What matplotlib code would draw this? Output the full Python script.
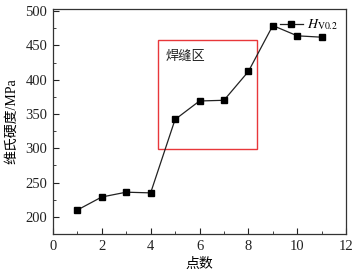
import matplotlib.pyplot as plt
from matplotlib.patches import Rectangle
from matplotlib.ticker import MultipleLocator

plt.rcParams['font.family'] = ['Liberation Serif', 'Noto Sans CJK SC']
plt.rcParams['mathtext.fontset'] = 'stix'

points = [1, 2, 3, 4, 5, 6, 7, 8, 9, 10, 11]
hv = [210, 229, 236, 235, 342, 369, 370, 412, 479, 464, 462]

fig = plt.figure(figsize=(3.55, 2.75), dpi=100)
ax = fig.add_axes([0.149, 0.149, 0.826, 0.818])

ax.plot(points, hv, color='#222222', lw=0.9, marker='s', ms=4.5,
        mfc='black', mec='black', label=r'$H_{\mathrm{V0.2}}$')

ax.add_patch(Rectangle((4.32, 298.5), 4.02, 160, fill=False,
                       edgecolor='#e8373a', lw=1.0))
ax.text(4.6, 433, '焊缝区', fontsize=9.5, va='center', color='#222222')

ax.set_xlim(0, 12)
ax.set_ylim(175, 503)
ax.xaxis.set_major_locator(MultipleLocator(2))
ax.xaxis.set_minor_locator(MultipleLocator(1))
ax.yaxis.set_major_locator(MultipleLocator(50))
ax.yaxis.set_minor_locator(MultipleLocator(25))
ax.tick_params(which='both', direction='in', top=False, right=False,
               labelsize=10.5, colors='#222222')
ax.tick_params(which='major', length=4, pad=4)
ax.tick_params(which='minor', length=2.5)
for s in ax.spines.values():
    s.set_color('#333333')
    s.set_linewidth(0.9)

ax.set_xlabel('点数', fontsize=10, labelpad=4)
ax.set_ylabel('维氏硬度/MPa', fontsize=10, labelpad=5)

ax.legend(loc='upper right', frameon=False, fontsize=10, handlelength=1.6,
          borderaxespad=0.2, handletextpad=0.3)

fig.savefig('out.png', dpi=100)
